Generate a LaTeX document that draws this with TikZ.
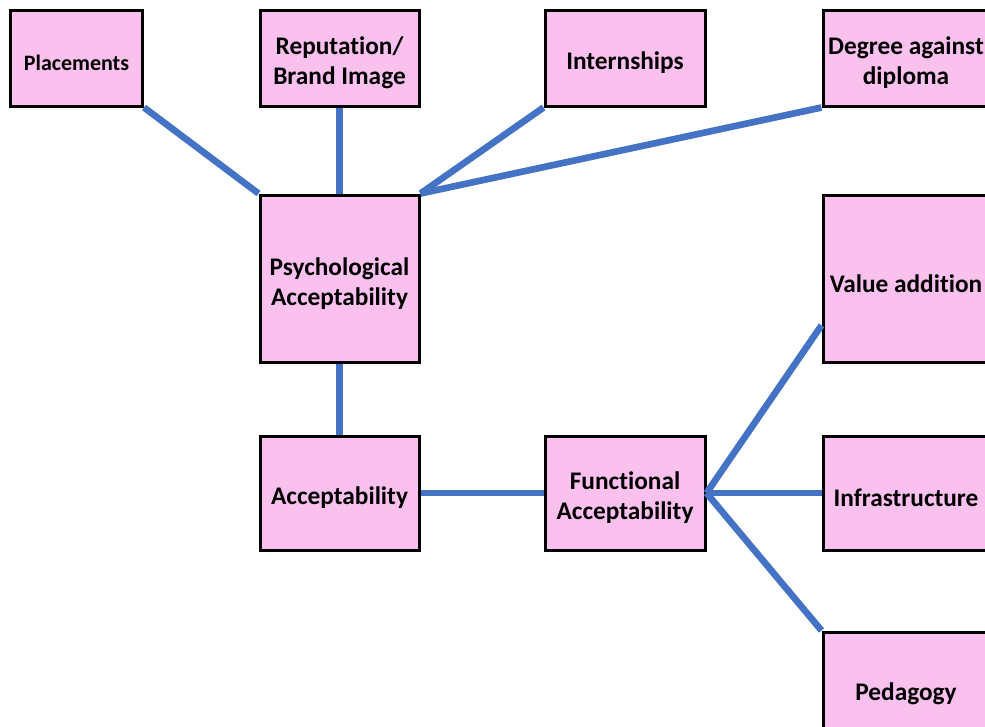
\documentclass[tikz,border=0pt]{standalone}
\usepackage{fontspec}
\setmainfont{Carlito}[Ligatures=NoCommon]
\usetikzlibrary{positioning}
\definecolor{boxpink}{RGB}{250,192,238}
\definecolor{linkblue}{RGB}{68,114,196}
\tikzset{
    x=0.75pt,
    y=-0.75pt,
    block/.style = {
        draw,
        fill=boxpink,
        shape=rectangle,
        minimum width=159*0.75pt,
        minimum height=96*0.75pt,
        line width=2.25pt,
        align=center,
        execute at begin node={\rule{0pt}{1.1em}},
        font=\fontsize{19}{22.5}\selectfont\bfseries
    },
    stacked/.style = {
        execute at begin node={\rule{0pt}{2.25em}}
    },
    link/.style = {
        draw,
        color=linkblue,
        line width=5pt
    },
}
\begin{document}
\begin{tikzpicture}
    \useasboundingbox (0,0) rectangle (985,726);
    \node[block, minimum width=132*0.75pt, font=\fontsize{16.5}{20}\selectfont\bfseries] (plac) at (76.5,58) {Placements};
    \node[block, stacked] (rep) at (339.5,58) {Reputation/\\Brand Image};
    \node[block, minimum width=160*0.75pt] (intern) at (625,58) {Internships};
    \node[block, stacked, minimum width=166*0.75pt] (degree) at (906,58) {Degree against\\diploma};

    \node[block, stacked, minimum height=167*0.75pt] (psych) at (339.5,278.5) {Psychological\\Acceptability};
    \node[block, minimum height=114*0.75pt] (accept) at (339.5,493) {Acceptability};
    \node[block, stacked, minimum width=160*0.75pt, minimum height=114*0.75pt] (func) at (625,493) {Functional\\Acceptability};

    \node[block, minimum width=166*0.75pt, minimum height=167*0.75pt] (value) at (906,278.5) {Value addition};
    \node[block, minimum width=166*0.75pt, minimum height=114*0.75pt] (infra) at (906,493) {Infrastructure};
    \node[block, minimum width=166*0.75pt, minimum height=114*0.75pt] (peda) at (906,689) {Pedagogy};

    % upper branch
    \path[link] (plac.south east) -- (psych.north west);
    \path[link] (rep) -- (psych);
    \path[link] (intern.south west) -- (psych.north east);
    \path[link] (degree.south west) -- (psych.north east);
    \path[link] (psych) -- (accept);
    \path[link] (accept) -- (func);

    % right branch
    \path[link] (func.east) -- (value.209);
    \path[link] (func.east) -- (infra.west);
    \path[link] (func.east) -- (peda.north west);
\end{tikzpicture}
\end{document}
